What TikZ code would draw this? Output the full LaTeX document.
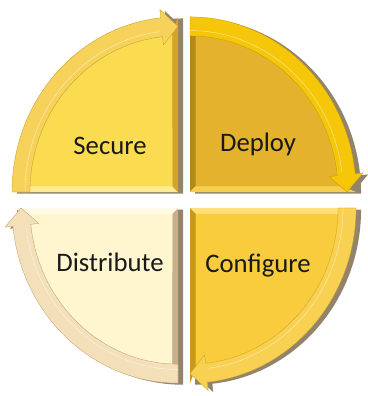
\documentclass[tikz,border=0pt]{standalone}
\usepackage{fontspec}
\setmainfont{Carlito}

\definecolor{castbrown}{HTML}{6E5A3C}
\definecolor{secureface}{HTML}{FBDC50}
\definecolor{securebevel}{HTML}{FFEC92}
\definecolor{securedark}{HTML}{D2A526}
\definecolor{secureband}{HTML}{F6D25A}
\definecolor{secureedge}{HTML}{C49C22}
\definecolor{deployface}{HTML}{E4B22C}
\definecolor{deploybevel}{HTML}{F6CE50}
\definecolor{deploydark}{HTML}{B58A14}
\definecolor{deployband}{HTML}{F6C608}
\definecolor{deployedge}{HTML}{C69A00}
\definecolor{configface}{HTML}{F9CC3E}
\definecolor{configbevel}{HTML}{FDE07A}
\definecolor{configdark}{HTML}{C9981C}
\definecolor{configband}{HTML}{F8D052}
\definecolor{configedge}{HTML}{CFA021}
\definecolor{distface}{HTML}{FFF5CF}
\definecolor{distbevel}{HTML}{FFFAE8}
\definecolor{distdark}{HTML}{C8B08A}
\definecolor{distband}{HTML}{F4E0B8}
\definecolor{distedge}{HTML}{BC9C6A}

% one quarter, drawn for the upper left one and turned for the others
\newcommand{\quarter}{(0,0) -- (180:16.6) arc[start angle=180, end angle=90, radius=16.6] -- cycle}
\newcommand{\facepath}{(-0.55,0.55) -- (177.9:15.2) arc[start angle=177.9, end angle=92.1, radius=15.2] -- cycle}
\newcommand{\lowstrip}{(0,0) -- (-0.55,0.55) -- (177.9:15.2) -- (180:16.6) -- cycle}
\newcommand{\sidestrip}{(0,0) -- (0,16.6) -- (92.1:15.2) -- (-0.55,0.55) -- cycle}
\newcommand{\arrowband}{(180:16.6) arc[start angle=180, end angle=96, radius=16.6] -- (96:17.4) -- (90:15.7) -- (96:14.0) -- (96:14.8) arc[start angle=96, end angle=180, radius=14.8] -- cycle}

\begin{document}
\begin{tikzpicture}[yscale=1.055, cast/.style={fill=castbrown, fill opacity=0.75}, band/.style={line width=0.9pt, line join=round}, groove/.style={white, opacity=0.55, line width=1.4pt}, l/.style={font=\fontsize{76}{80}\selectfont, text=black!90}]
	\useasboundingbox (-18.6,-18.48) rectangle (18.1,19.05);

	% shadows
	\begin{scope}[shift={(0.5,-0.15)}]
		\fill[cast, shift={(-0.8,0.85)}] \quarter \arrowband;
		\fill[cast, shift={(0.4,0.85)}, rotate=-90] \quarter \arrowband;
		\fill[cast, shift={(0.4,-0.66)}, rotate=180] \quarter \arrowband;
		\fill[cast, shift={(-0.8,-0.66)}, rotate=90] \quarter \arrowband;
	\end{scope}

	% Secure
	\begin{scope}[shift={(-0.8,0.85)}]
		\fill[securebevel] \lowstrip;
		\fill[securedark] \sidestrip;
		\fill[secureface] \facepath;
		\filldraw[fill=secureband, draw=secureedge, band] \arrowband;
		\draw[groove] (180:15.3) arc[start angle=180, end angle=97, radius=15.3];
	\end{scope}

	% Deploy
	\begin{scope}[shift={(0.4,0.85)}, rotate=-90]
		\fill[deploydark] \lowstrip;
		\fill[deploybevel] \sidestrip;
		\fill[deployface] \facepath;
		\filldraw[fill=deployband, draw=deployedge, band] \arrowband;
		\draw[groove] (180:15.3) arc[start angle=180, end angle=97, radius=15.3];
	\end{scope}

	% Configure
	\begin{scope}[shift={(0.4,-0.66)}, rotate=180]
		\fill[configbevel] \lowstrip;
		\fill[configdark] \sidestrip;
		\fill[configface] \facepath;
		\filldraw[fill=configband, draw=configedge, band] \arrowband;
		\draw[groove] (180:15.3) arc[start angle=180, end angle=97, radius=15.3];
	\end{scope}

	% Distribute
	\begin{scope}[shift={(-0.8,-0.66)}, rotate=90]
		\fill[distdark] \lowstrip;
		\fill[distbevel] \sidestrip;
		\fill[distface] \facepath;
		\filldraw[fill=distband, draw=distedge, band] \arrowband;
		\draw[groove] (180:15.3) arc[start angle=180, end angle=97, radius=15.3];
	\end{scope}

	\node[l] (secure) at (-7.6,5.2) {Secure};
	\node[l] (deploy) at (7.2,5.4) {Deploy};
	\node[l] (configure) at (7.2,-6.1) {Configure};
	\node[l] (distribute) at (-7.6,-5.8) {Distribute};
\end{tikzpicture}
\end{document}
